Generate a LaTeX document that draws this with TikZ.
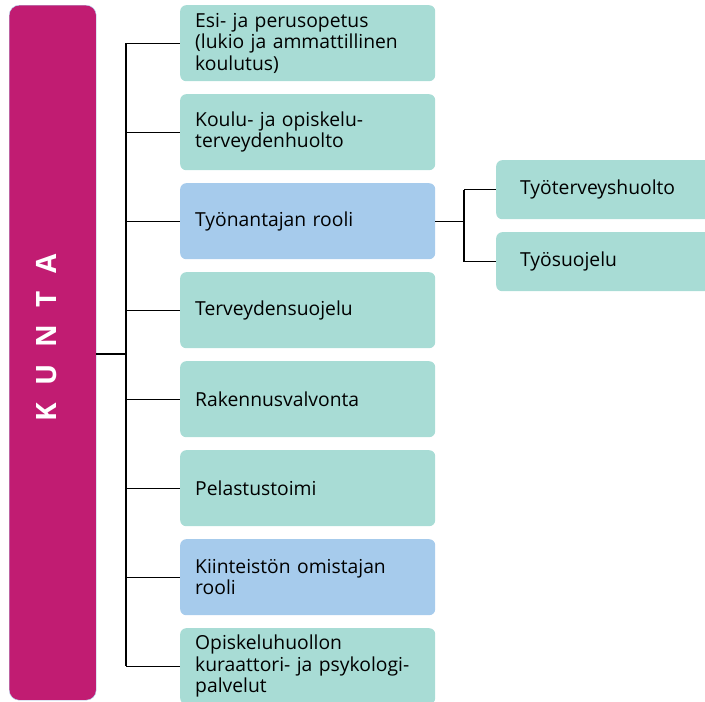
\documentclass[tikz,border=0pt]{standalone}
\usepackage{fontspec}
\setmainfont{Open Sans}
\definecolor{kuntapink}{HTML}{C11C72}
\definecolor{boxteal}{HTML}{A8DCD5}
\definecolor{boxblue}{HTML}{A6CBEC}
\tikzset{
  tehtava/.style={rectangle,rounded corners=6pt,fill=boxteal,minimum height=76pt,
    text width=225pt,inner xsep=15pt,align=left,anchor=north west,
    font=\fontsize{19.3}{21.5}\selectfont},
  rooli/.style={tehtava,fill=boxblue},
  alatehtava/.style={tehtava,minimum height=59pt,text width=200pt,inner xsep=24pt},
  linja/.style={black,line width=1.1pt}
}
\begin{document}
\begin{tikzpicture}[x=1pt,y=-1pt]
\useasboundingbox (0,0) rectangle (705,702);
\clip (0,0) rectangle (705,702);
\node[rectangle,rounded corners=10pt,fill=kuntapink,draw=cyan!30,line width=0.4pt,
  minimum width=87pt,minimum height=695pt,anchor=north west] (kunta) at (9,5) {};
\node[rotate=90,text=white,font=\fontsize{28}{30}\selectfont\bfseries] at (47,338) {K\hspace{0.62em}U\hspace{0.62em}N\hspace{0.62em}T\hspace{0.62em}A};

\node[tehtava] (esi) at (180,5) {Esi- ja perusopetus\\(lukio ja ammattillinen\\koulutus)};
\node[tehtava] (koulu) at (180,94) {Koulu- ja opiskelu-\\terveydenhuolto};
\node[rooli] (tyonantaja) at (180,183) {Työnantajan rooli};
\node[tehtava] (terveys) at (180,272) {Terveydensuojelu};
\node[tehtava] (rakennus) at (180,361) {Rakennusvalvonta};
\node[tehtava] (pelastus) at (180,450) {Pelastustoimi};
\node[rooli] (kiinteisto) at (180,539) {Kiinteistön omistajan\\rooli};
\node[tehtava] (opiskelu) at (180,628) {Opiskeluhuollon\\kuraattori- ja psykologi-\\palvelut};

\node[alatehtava] (tth) at (496,160) {Työterveyshuolto};
\node[alatehtava] (tsuo) at (496,232) {Työsuojelu};

%\node at (126,354) {};
\coordinate (runko) at (126,354);
\coordinate (haara) at (464,221);
\draw[linja] (kunta.east |- runko) -- (runko);
\draw[linja] (runko |- esi.west) -- (runko |- opiskelu.west);
\draw[linja] (runko |- esi.west) -- (esi.west);
\draw[linja] (runko |- koulu.west) -- (koulu.west);
\draw[linja] (runko |- tyonantaja.west) -- (tyonantaja.west);
\draw[linja] (runko |- terveys.west) -- (terveys.west);
\draw[linja] (runko |- rakennus.west) -- (rakennus.west);
\draw[linja] (runko |- pelastus.west) -- (pelastus.west);
\draw[linja] (runko |- kiinteisto.west) -- (kiinteisto.west);
\draw[linja] (runko |- opiskelu.west) -- (opiskelu.west);

\draw[linja] (tyonantaja.east) -- (haara |- tyonantaja.east);
\draw[linja] (haara |- tth.west) -- (haara |- tsuo.west);
\draw[linja] (haara |- tth.west) -- (tth.west);
\draw[linja] (haara |- tsuo.west) -- (tsuo.west);
\end{tikzpicture}
\end{document}
